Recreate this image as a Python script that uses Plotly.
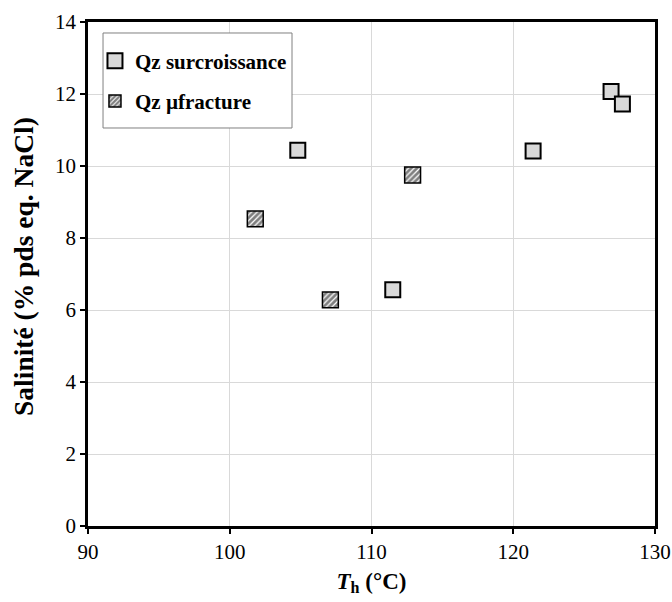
import plotly.graph_objects as go

# Data
surc_T = [104.8, 111.5, 121.4, 126.9, 127.7]
surc_S = [10.44, 6.56, 10.42, 12.07, 11.72]
frac_T = [101.8, 107.1, 112.9]
frac_S = [8.53, 6.28, 9.75]

x_ticks = [90, 100, 110, 120, 130]
y_ticks = [0, 2, 4, 6, 8, 10, 12, 14]

FONT = "Liberation Serif"

# marker box size in data units for the hatched squares
BW = 1.12
BH = 0.44

fig = go.Figure()

fig.add_trace(go.Scatter(
    x=surc_T, y=surc_S, mode="markers", name="Qz surcroissance",
    legendgroup="a",
    marker=dict(symbol="square", size=15, color="#d9d9d9",
                line=dict(color="black", width=2)),
))

fig.add_trace(go.Bar(
    x=frac_T, y=[BH] * len(frac_S), base=[s - BH / 2 for s in frac_S],
    width=BW, name="Qz µfracture", legendgroup="b",
    marker=dict(color="white",
                line=dict(color="black", width=1.5),
                pattern=dict(shape="/", fgcolor="black", bgcolor="white",
                             size=4, solidity=0.7)),
))

# legend frame
fig.add_shape(type="rect", xref="paper", yref="paper",
              x0=0.0265, x1=0.3598, y0=0.7897, y1=0.9782,
              fillcolor="white", line=dict(color="#808080", width=1),
              layer="above")

# y axis title
fig.add_annotation(text="<b>Salinité (% pds eq. NaCl)</b>",
                   xref="paper", yref="paper", x=-0.1129, y=0.516,
                   xanchor="center", yanchor="middle", textangle=-90,
                   showarrow=False,
                   font=dict(family=FONT, size=27.5, color="black"))

fig.update_layout(
    width=672, height=602,
    margin=dict(l=88, r=17, t=22, b=76),
    paper_bgcolor="white", plot_bgcolor="white",
    barmode="overlay",
    font=dict(family=FONT, size=21, color="black"),
    showlegend=True,
    legend=dict(
        x=0.0123, y=0.9633, xanchor="left", yanchor="top",
        bgcolor="rgba(0,0,0,0)", borderwidth=0,
        font=dict(family=FONT, size=21, color="black", weight="bold"),
        tracegroupgap=10, traceorder="grouped",
        itemwidth=30,
    ),
    xaxis=dict(
        range=[90, 130], tickvals=x_ticks, ticktext=[str(v) for v in x_ticks],
        showgrid=True, gridcolor="#d9d9d9", gridwidth=1,
        showline=True, linecolor="black", linewidth=2.5, mirror=True,
        ticks="outside", ticklen=5, tickwidth=2, tickcolor="black",
        zeroline=False, automargin=False,
        tickfont=dict(family=FONT, size=21, color="black"),
        title=dict(text="<b><i>T</i><sub>h</sub> (°C)</b>", standoff=10,
                   font=dict(family=FONT, size=23, color="black")),
    ),
    yaxis=dict(
        range=[0, 14], tickvals=y_ticks, ticktext=[str(v) for v in y_ticks],
        showgrid=True, gridcolor="#d9d9d9", gridwidth=1,
        showline=True, linecolor="black", linewidth=2.5, mirror=True,
        ticks="outside", ticklen=5, tickwidth=2, tickcolor="black",
        zeroline=False, automargin=False,
        tickfont=dict(family=FONT, size=21, color="black"),
    ),
)

fig.write_html("out.html", config={"displayModeBar": False},
               post_script="document.body.style.margin='0';")
